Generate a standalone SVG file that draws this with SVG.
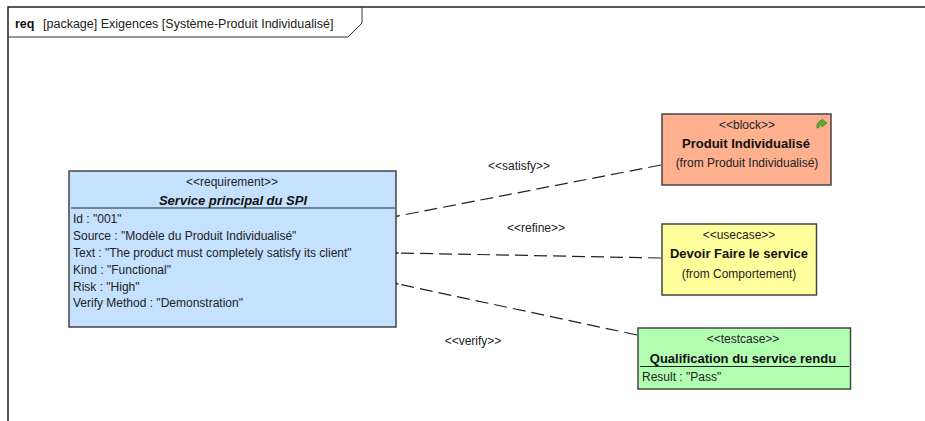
<svg xmlns="http://www.w3.org/2000/svg" width="925" height="421" viewBox="0 0 925 421">
<style>
text{font-family:"Liberation Sans",Arial,sans-serif;font-size:12px;fill:#222}
.c{text-anchor:middle}
.b{font-weight:bold;font-size:13px;fill:#111}
.box{stroke:#444;stroke-width:1.5}
.conn{fill:none;stroke:#222;stroke-width:1.2;stroke-dasharray:13 6}
.head{fill:none;stroke:#222;stroke-width:1}
.sep{stroke:#222;stroke-width:1.2}
</style>
<defs>
<marker id="open" markerUnits="userSpaceOnUse" markerWidth="18" markerHeight="16" refX="1" refY="8" orient="auto" viewBox="0 0 18 16"><path class="head" d="M15 2.500L1 8L15 13.500"/></marker>
</defs>
<rect width="925" height="421" fill="#fff"/>
<g id="frame">
<path d="M8 421V7H925" fill="none" stroke="#222" stroke-width="1.5"/>
<path d="M8 37H348L362 23V7" fill="none" stroke="#333" stroke-width="1"/>
<text x="15" y="28" style="font-weight:bold;font-size:12.500px;fill:#111">req</text>
<text x="43" y="28" style="font-size:12.500px">[package] Exigences [Système-Produit Individualisé]</text>
</g>
<g id="connectors">
<path class="conn" marker-end="url(#open)" d="M661 165L398 216"/>
<path class="conn" marker-end="url(#open)" d="M661 258L398 253"/>
<path class="conn" marker-end="url(#open)" d="M637 335L398 284"/>
<text class="c" x="519" y="170">&lt;&lt;satisfy&gt;&gt;</text>
<text class="c" x="536" y="232">&lt;&lt;refine&gt;&gt;</text>
<text class="c" x="473" y="345">&lt;&lt;verify&gt;&gt;</text>
</g>
<g id="requirement">
<rect class="box" x="69" y="171" width="327" height="156" fill="#c4e1ff"/>
<text class="c" x="232" y="186">&lt;&lt;requirement&gt;&gt;</text>
<text class="c b" x="233" y="205" style="font-style:italic">Service principal du SPI</text>
<path class="sep" d="M71 208H395"/>
<text x="73" y="223">Id :  "001"</text>
<text x="73" y="240">Source :  "Modèle du Produit Individualisé"</text>
<text x="73" y="257">Text : "The product must completely satisfy its client"</text>
<text x="73" y="274">Kind :  "Functional"</text>
<text x="73" y="291">Risk :  "High"</text>
<text x="73" y="307">Verify Method :  "Demonstration"</text>
</g>
<g id="block">
<rect class="box" x="662" y="114" width="169" height="71" fill="#ffb08f"/>
<text class="c" x="747" y="129">&lt;&lt;block&gt;&gt;</text>
<text class="c b" x="746" y="148">Produit Individualisé</text>
<text class="c" x="747" y="167">(from Produit Individualisé)</text>
<path d="M817 128L817 124L820 120.500L822 120.500L822 119L827 123L822 127L822 125L820 125L818.500 128Z" fill="#5cb030" stroke="#2f7a1a" stroke-width=".6"/>
</g>
<g id="usecase">
<rect class="box" x="662" y="224" width="154.500" height="71" fill="#ffff9c"/>
<text class="c" x="739" y="239">&lt;&lt;usecase&gt;&gt;</text>
<text class="c b" x="739" y="258">Devoir Faire le service</text>
<text class="c" x="739" y="278">(from Comportement)</text>
</g>
<g id="testcase">
<rect class="box" x="638" y="328" width="212.500" height="61" fill="#b2ffb2"/>
<text class="c" x="743" y="343">&lt;&lt;testcase&gt;&gt;</text>
<text class="c b" x="743" y="363">Qualification du service rendu</text>
<path class="sep" d="M640 366.500H849"/>
<text x="642" y="381">Result :  "Pass"</text>
</g>
</svg>
